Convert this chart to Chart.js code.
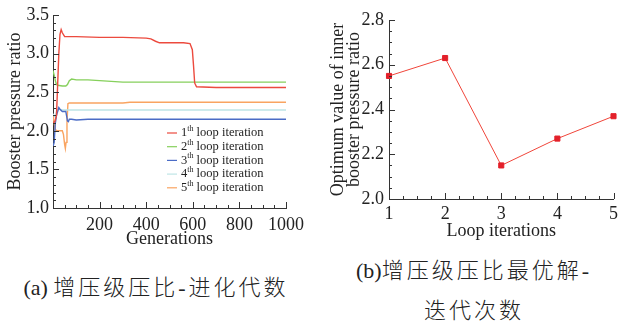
<!DOCTYPE html>
<html>
<head>
<meta charset="utf-8">
<script src="https://cdn.jsdelivr.net/npm/chart.js@4/dist/chart.umd.min.js"></script>
<style>
  body { margin: 0; background: #fff; width: 622px; height: 322px; position: relative; overflow: hidden; }
  canvas { position: absolute; top: 0; }
  #leftChart { left: 0; }
  #rightChart { left: 310px; }
  .cap { position: absolute; font-family: "Liberation Serif", "Noto Sans CJK SC"; font-size: 22px; color: #222; white-space: nowrap; text-align: center; font-weight: 300; }
  .cap .cjk { letter-spacing: 3px; }
</style>
</head>
<body>
<canvas id="leftChart" width="310" height="250"></canvas>
<canvas id="rightChart" width="312" height="250"></canvas>
<div class="cap" id="capA" style="left:0; width:312px; top:269px;">(a) <span class="cjk">增压级压比-进化代数</span></div>
<div class="cap" id="capB" style="left:350px; width:248px; top:251px; line-height:40px;">(b)<span class="cjk">增压级压比最优解-</span><br><span class="cjk">迭代次数</span></div>
<script>
// left chart: booster pressure ratio vs generations
var seriesNames = ['1th loop iteration', '2th loop iteration', '3th loop iteration', '4th loop iteration', '5th loop iteration'];
var seriesColors = ['#ec4a3e', '#86d05c', '#4b6cc6', '#bfe5e6', '#f9a461'];

var gen1 = [0, 8, 15, 20, 25, 30, 35, 40, 50, 100, 200, 300, 400, 420, 440, 457, 500, 560, 588, 598, 603, 608, 616, 700, 800, 900, 1000];
var ratio1 = [2.1, 2.12, 2.2, 2.6, 3.0, 3.25, 3.31, 3.27, 3.22, 3.22, 3.21, 3.21, 3.2, 3.19, 3.16, 3.14, 3.14, 3.14, 3.13, 3.05, 2.85, 2.62, 2.57, 2.56, 2.56, 2.56, 2.56];

var gen2 = [0, 5, 10, 15, 20, 40, 55, 62, 70, 80, 100, 150, 200, 250, 300, 400, 600, 800, 1000];
var ratio2 = [2.78, 2.72, 2.65, 2.6, 2.59, 2.58, 2.58, 2.6, 2.65, 2.67, 2.66, 2.66, 2.65, 2.64, 2.63, 2.63, 2.63, 2.63, 2.63];

var gen3 = [0, 5, 10, 15, 20, 25, 30, 40, 55, 58, 62, 66, 70, 80, 100, 150, 200, 1000];
var ratio3 = [1.8, 1.85, 2.1, 2.2, 2.25, 2.3, 2.28, 2.25, 2.25, 2.2, 2.13, 2.12, 2.15, 2.15, 2.14, 2.15, 2.15, 2.15];

var gen4 = [0, 8, 15, 25, 40, 1000];
var ratio4 = [2.22, 2.18, 2.25, 2.28, 2.27, 2.27];

var gen5 = [0, 5, 10, 15, 30, 40, 45, 50, 53, 56, 60, 64, 70, 100, 200, 300, 330, 1000];
var ratio5 = [2.2, 2.1, 2.02, 2.0, 2.0, 2.0, 1.95, 1.82, 1.77, 1.85, 2.1, 2.35, 2.36, 2.36, 2.36, 2.36, 2.37, 2.37];

// right chart: optimum per loop iteration
var loops = [1, 2, 3, 4, 5];
var optimum = [2.55, 2.63, 2.15, 2.27, 2.37];

var serif = "'Liberation Serif', serif";
var axisColor = '#333';

function pts(xs, ys) {
  return xs.map(function (x, i) { return { x: x, y: ys[i] }; });
}

// inward major + minor ticks
var innerTicks = {
  id: 'innerTicks',
  afterDraw: function (chart) {
    var ctx = chart.ctx;
    var area = chart.chartArea;
    ctx.save();
    ctx.strokeStyle = axisColor;
    ctx.lineWidth = 1;
    ['x', 'y'].forEach(function (id) {
      var scale = chart.scales[id];
      var o = scale.options;
      var n = Math.round((o.max - o.min) / o.minorStep);
      for (var i = 0; i <= n; i++) {
        var v = o.min + i * o.minorStep;
        var r = (v - o.min) / o.majorStep;
        var len = Math.abs(r - Math.round(r)) < 1e-6 ? 6 : 3;
        var p = Math.round(scale.getPixelForValue(v)) + 0.5;
        ctx.beginPath();
        if (id === 'x') {
          ctx.moveTo(p, area.bottom);
          ctx.lineTo(p, area.bottom - len);
        } else {
          ctx.moveTo(area.left, p);
          ctx.lineTo(area.left + len, p);
        }
        ctx.stroke();
      }
    });
    ctx.restore();
  }
};

// legend with superscript "th"
var supLegend = {
  id: 'supLegend',
  afterDraw: function (chart) {
    var ctx = chart.ctx;
    var area = chart.chartArea;
    var x0 = area.left + 114;
    var y0 = area.top + 118;
    ctx.save();
    chart.data.datasets.forEach(function (ds, i) {
      var y = y0 + i * 13.7;
      ctx.strokeStyle = ds.borderColor;
      ctx.lineWidth = 1.2;
      ctx.beginPath();
      ctx.moveTo(x0, y);
      ctx.lineTo(x0 + 10, y);
      ctx.stroke();
      var m = ds.label.match(/^(\d+)(th)(.*)$/);
      ctx.fillStyle = '#222';
      ctx.textBaseline = 'middle';
      ctx.font = '12.5px ' + serif;
      var tx = x0 + 14;
      ctx.fillText(m[1], tx, y);
      tx += ctx.measureText(m[1]).width;
      ctx.font = '8px ' + serif;
      ctx.fillText(m[2], tx, y - 4);
      tx += ctx.measureText(m[2]).width;
      ctx.font = '12.5px ' + serif;
      ctx.fillText(m[3], tx, y);
    });
    ctx.restore();
  }
};

var leftDatasets = [
  pts(gen1, ratio1), pts(gen2, ratio2), pts(gen3, ratio3), pts(gen4, ratio4), pts(gen5, ratio5)
].map(function (d, i) {
  return {
    label: seriesNames[i],
    data: d,
    borderColor: seriesColors[i],
    borderWidth: 1.4,
    pointRadius: 0,
    fill: false,
    tension: 0
  };
});
// draw red on top like the original
leftDatasets[0].order = -1;

new Chart(document.getElementById('leftChart').getContext('2d'), {
  type: 'line',
  data: { datasets: leftDatasets },
  options: {
    responsive: false,
    animation: false,
    layout: { padding: { left: 4, top: 15, right: 18, bottom: 0 } },
    plugins: { legend: { display: false }, tooltip: { enabled: false } },
    scales: {
      x: {
        type: 'linear', min: 0, max: 1000, majorStep: 200, minorStep: 50,
        afterFit: function (s) { s.height = 42; },
        grid: { display: true, drawOnChartArea: false, drawTicks: false },
        border: { display: true, color: axisColor, width: 1 },
        ticks: {
          stepSize: 200, padding: 6, color: '#222', font: { family: serif, size: 18 },
          callback: function (v) { return v === 0 ? '' : v; }
        },
        title: { display: true, text: 'Generations', color: '#222', font: { family: serif, size: 18 }, padding: { top: 0, bottom: 0 } }
      },
      y: {
        min: 1.0, max: 3.5, majorStep: 0.5, minorStep: 0.1,
        afterFit: function (s) { s.width = 49; },
        grid: { display: true, drawOnChartArea: false, drawTicks: false },
        border: { display: true, color: axisColor, width: 1 },
        ticks: {
          stepSize: 0.5, padding: 4, color: '#222', font: { family: serif, size: 18 },
          callback: function (v) { return v.toFixed(1); }
        },
        title: { display: true, text: 'Booster pressure ratio', color: '#222', font: { family: serif, size: 18 }, padding: { top: 0, bottom: 0 } }
      }
    }
  },
  plugins: [innerTicks, supLegend]
});

new Chart(document.getElementById('rightChart').getContext('2d'), {
  type: 'line',
  data: {
    datasets: [{
      label: 'Optimum',
      data: pts(loops, optimum),
      borderColor: '#f0453a',
      borderWidth: 1,
      pointStyle: 'rect',
      pointRadius: 3.6,
      pointBackgroundColor: '#e3202a',
      pointBorderColor: '#e3202a',
      fill: false,
      tension: 0,
      clip: false
    }]
  },
  options: {
    responsive: false,
    animation: false,
    layout: { padding: { left: 20, top: 20, right: 4, bottom: 8 } },
    plugins: { legend: { display: false }, tooltip: { enabled: false } },
    scales: {
      x: {
        type: 'linear', min: 1, max: 5, majorStep: 1, minorStep: 0.25,
        afterFit: function (s) { s.height = 43; },
        grid: { display: true, drawOnChartArea: false, drawTicks: false },
        border: { display: true, color: axisColor, width: 1 },
        ticks: { stepSize: 1, padding: 4, color: '#222', font: { family: serif, size: 18 } },
        title: { display: true, text: 'Loop iterations', color: '#222', font: { family: serif, size: 18 }, padding: { top: 0, bottom: 0 } }
      },
      y: {
        min: 2.0, max: 2.8, majorStep: 0.2, minorStep: 0.05,
        afterFit: function (s) { s.width = 59; },
        grid: { display: true, drawOnChartArea: false, drawTicks: false },
        border: { display: true, color: axisColor, width: 1 },
        ticks: {
          stepSize: 0.2, padding: 5, color: '#222', font: { family: serif, size: 18 },
          callback: function (v) { return v.toFixed(1); }
        },
        title: {
          display: true, text: ['Optimum value of inner', 'booster pressure ratio'], color: '#222',
          font: { family: serif, size: 18, lineHeight: 0.9 }, padding: { top: 0, bottom: 0 }
        }
      }
    }
  },
  plugins: [innerTicks]
});
</script>
</body>
</html>
